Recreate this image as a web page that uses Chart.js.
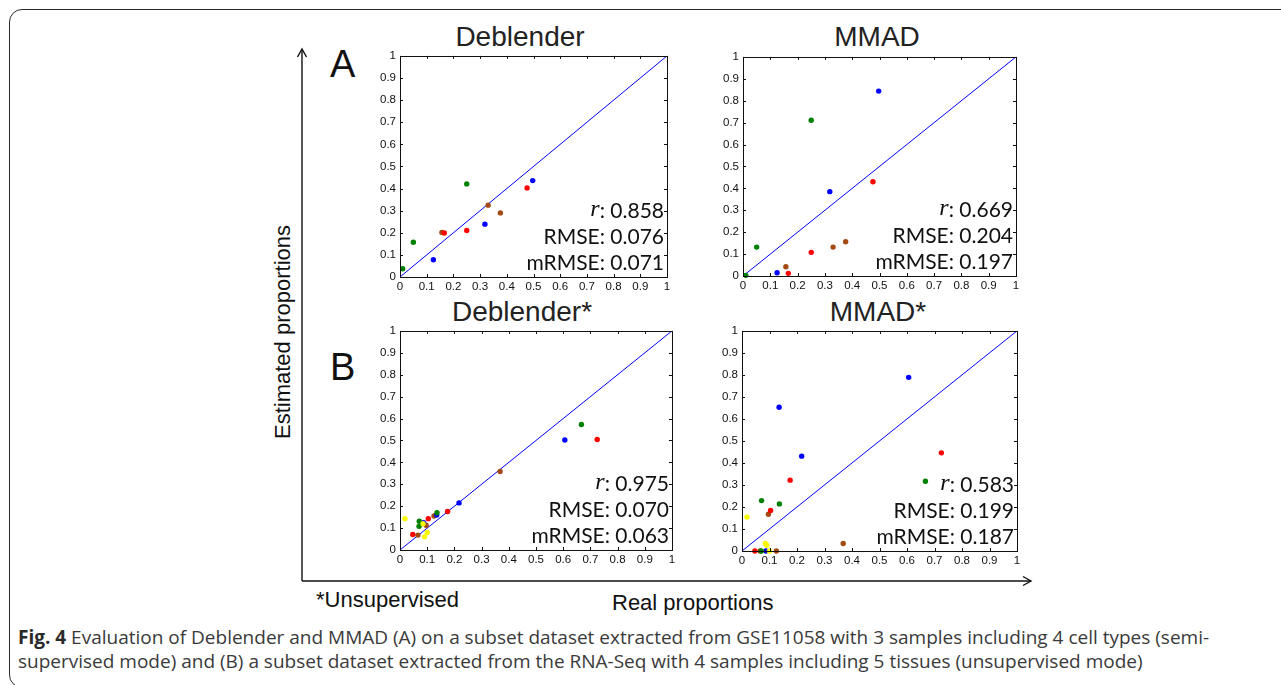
<!DOCTYPE html>
<html>
<head>
<meta charset="utf-8">
<script src="https://cdn.jsdelivr.net/npm/chart.js@4.4.1/dist/chart.umd.min.js"></script>
<style>
  html, body { margin: 0; padding: 0; background: #fff; }
  body { width: 1281px; height: 685px; overflow: hidden; position: relative;
         font-family: "Liberation Sans", Arial, sans-serif; color: #1a1a1a; }
  #frame { position: absolute; left: 9px; top: 9px; width: 1400px; height: 677px;
           border: 1.3px solid #2a2a2a; border-radius: 13px; }
  .abs { position: absolute; white-space: nowrap; line-height: 1; }
  .ptitle { font-size: 28px; color: #222; transform: translateX(-50%); }
  .letter { font-size: 38px; color: #111; }
  .axlab { font-size: 22px; color: #111; }
  #ylab { transform-origin: 0 0; transform: rotate(-90deg); }
  .cap { font-family: "Open Sans", "Noto Sans", sans-serif; font-size: 19px; color: #3a3a3a; left: 18px; }
  .cap b { color: #2a2a2a; }
  canvas { position: absolute; }
</style>
</head>
<body>
<div id="frame"></div>

<svg class="abs" style="left:0;top:0" width="1281" height="685">
  <g stroke="#111" stroke-width="1.4" fill="none">
    <line x1="302" y1="50" x2="302" y2="581"/>
    <line x1="302" y1="581" x2="1031" y2="581"/>
    <polyline points="297.5,57 302,49 306.5,57"/>
    <polyline points="1023,576.5 1031,581 1023,585.5"/>
  </g>
</svg>

<div class="abs letter" style="left:330px;top:45px">A</div>
<div class="abs letter" style="left:330px;top:348px">B</div>

<div class="abs ptitle" style="left:520px;top:23px">Deblender</div>
<div class="abs ptitle" style="left:877px;top:23px">MMAD</div>
<div class="abs ptitle" style="left:522px;top:298px">Deblender*</div>
<div class="abs ptitle" style="left:878px;top:298px">MMAD*</div>

<div class="abs axlab" id="ylab" style="left:272px;top:439px">Estimated proportions</div>
<div class="abs axlab" style="left:612px;top:592px">Real proportions</div>
<div class="abs axlab" style="left:316px;top:589px">*Unsupervised</div>

<div class="abs cap" style="top:628px"><b>Fig. 4</b> Evaluation of Deblender and MMAD (A) on a subset dataset extracted from GSE11058 with 3 samples including 4 cell types (semi-</div>
<div class="abs cap" style="top:652px">supervised mode) and (B) a subset dataset extracted from the RNA-Seq with 4 samples including 5 tissues (unsupervised mode)</div>

<canvas id="c1"></canvas>
<canvas id="c2"></canvas>
<canvas id="c3"></canvas>
<canvas id="c4"></canvas>

<script>
// tick labels shared by every axis
const tickLabels = ['0', '0.1', '0.2', '0.3', '0.4', '0.5', '0.6', '0.7', '0.8', '0.9', '1'];

// A: 3 samples, 4 cell types - real proportions
const aBlueReal  = [0.125, 0.318, 0.497];
const aGreenReal = [0.010, 0.050, 0.250];
const aRedReal   = [0.166, 0.250, 0.476];
const aBrownReal = [0.157, 0.330, 0.376];
// A: Deblender estimates
const aBlueDeb  = [0.078, 0.239, 0.436];
const aGreenDeb = [0.037, 0.157, 0.421];
const aRedDeb   = [0.199, 0.210, 0.403];
const aBrownDeb = [0.201, 0.325, 0.290];
// A: MMAD estimates
const aBlueMmad  = [0.015, 0.385, 0.844];
const aGreenMmad = [0.003, 0.132, 0.711];
const aRedMmad   = [0.012, 0.108, 0.430];
const aBrownMmad = [0.042, 0.132, 0.156];

// B: 4 samples, 5 tissues - real proportions
const bBlueReal   = [0.087, 0.135, 0.217, 0.606];
const bGreenReal  = [0.070, 0.071, 0.136, 0.667];
const bRedReal    = [0.047, 0.104, 0.175, 0.725];
const bBrownReal  = [0.066, 0.096, 0.125, 0.368];
const bYellowReal = [0.018, 0.085, 0.090, 0.100];
// B: Deblender* estimates
const bBlueDeb   = [0.125, 0.160, 0.215, 0.502];
const bGreenDeb  = [0.108, 0.131, 0.170, 0.573];
const bRedDeb    = [0.071, 0.143, 0.176, 0.504];
const bBrownDeb  = [0.068, 0.113, 0.155, 0.358];
const bYellowDeb = [0.143, 0.120, 0.060, 0.080];
// B: MMAD* estimates
const bBlueMmad   = [0.000, 0.653, 0.431, 0.789];
const bGreenMmad  = [0.000, 0.229, 0.214, 0.317];
const bRedMmad    = [0.000, 0.184, 0.322, 0.446];
const bBrownMmad  = [0.000, 0.167, 0.000, 0.034];
const bYellowMmad = [0.154, 0.034, 0.026, 0.000];

// stats printed in the lower right of each panel
const rValues    = ['0.858', '0.669', '0.975', '0.583'];
const rmseValues = ['0.076', '0.204', '0.070', '0.199'];
const mrmseValues = ['0.071', '0.197', '0.063', '0.187'];

const colors = { blue: '#0000ff', green: '#008000', red: '#ff0000', brown: '#a34a12', yellow: '#f8f800' };

function pts(xs, ys) {
  return xs.map((x, i) => ({ x: x, y: ys[i] }));
}

// matlab-like box with inward ticks, plus the stats text
const boxPlugin = {
  id: 'matlabBox',
  afterDraw(chart, args, opts) {
    const ctx = chart.ctx, a = chart.chartArea;
    const xs = chart.scales.x, ys = chart.scales.y;
    ctx.save();
    ctx.strokeStyle = '#111';
    ctx.lineWidth = 1;
    ctx.strokeRect(Math.round(a.left) + 0.5, Math.round(a.top) + 0.5,
                   Math.round(a.right - a.left), Math.round(a.bottom - a.top));
    ctx.beginPath();
    for (let i = 0; i <= 10; i++) {
      const px = Math.round(xs.getPixelForValue(i / 10)) + 0.5;
      ctx.moveTo(px, a.bottom); ctx.lineTo(px, a.bottom - 3);
      ctx.moveTo(px, a.top); ctx.lineTo(px, a.top + 3);
      const py = Math.round(ys.getPixelForValue(i / 10)) + 0.5;
      ctx.moveTo(a.left, py); ctx.lineTo(a.left + 3, py);
      ctx.moveTo(a.right, py); ctx.lineTo(a.right - 3, py);
    }
    ctx.stroke();

    const right = a.right - 3;
    ctx.fillStyle = '#111';
    ctx.textBaseline = 'middle';
    ctx.textAlign = 'right';
    ctx.font = '21px Lato, "Open Sans", sans-serif';
    const rText = ': ' + opts.r;
    ctx.fillText(rText, right, a.bottom - 66);
    const w = ctx.measureText(rText).width;
    ctx.font = 'italic 24px "Liberation Serif", "DejaVu Serif", serif';
    ctx.fillText('r', right - w, a.bottom - 67);
    ctx.font = '21px Lato, "Open Sans", sans-serif';
    ctx.fillText('RMSE: ' + opts.rmse, right, a.bottom - 40);
    ctx.fillText('mRMSE: ' + opts.mrmse, right, a.bottom - 14);
    ctx.restore();
  }
};

function axis(isX) {
  return {
    type: 'linear', min: 0, max: 1,
    grid: { display: false, drawTicks: false },
    border: { display: false },
    ticks: {
      stepSize: 0.1, autoSkip: false, maxRotation: 0,
      padding: isX ? 3 : 4,
      color: '#111',
      font: { size: 11.5, family: '"Liberation Sans", Arial, sans-serif' },
      callback: (v, i) => tickLabels[i]
    },
    afterFit: s => { if (isX) s.height = 18; else s.width = 32; }
  };
}

function makeChart(id, box, series, idx) {
  const cv = document.getElementById(id);
  cv.width = box.w + 40;
  cv.height = box.h + 26;
  cv.style.left = (box.l - 32) + 'px';
  cv.style.top = (box.t - 8) + 'px';

  const datasets = series.map(s => ({
    data: pts(s.x, s.y),
    backgroundColor: colors[s.c],
    borderWidth: 0,
    pointRadius: 2.7,
    clip: false
  }));
  datasets.push({
    type: 'line',
    data: [{ x: 0, y: 0 }, { x: 1, y: 1 }],
    borderColor: '#0000ff',
    borderWidth: 1,
    pointRadius: 0,
    fill: false
  });

  return new Chart(cv, {
    type: 'scatter',
    data: { datasets: datasets },
    options: {
      responsive: false,
      animation: false,
      devicePixelRatio: 1,
      layout: { padding: { top: 8, right: 8, left: 0, bottom: 0 } },
      scales: { x: axis(true), y: axis(false) },
      plugins: {
        legend: { display: false },
        tooltip: { enabled: false },
        matlabBox: { r: rValues[idx], rmse: rmseValues[idx], mrmse: mrmseValues[idx] }
      }
    },
    plugins: [boxPlugin]
  });
}

makeChart('c1', { l: 400, t: 53, w: 267, h: 224 }, [
  { c: 'green', x: aGreenReal, y: aGreenDeb },
  { c: 'blue',  x: aBlueReal,  y: aBlueDeb },
  { c: 'red',   x: aRedReal,   y: aRedDeb },
  { c: 'brown', x: aBrownReal, y: aBrownDeb }
], 0);

makeChart('c2', { l: 743, t: 54, w: 273, h: 222 }, [
  { c: 'green', x: aGreenReal, y: aGreenMmad },
  { c: 'blue',  x: aBlueReal,  y: aBlueMmad },
  { c: 'red',   x: aRedReal,   y: aRedMmad },
  { c: 'brown', x: aBrownReal, y: aBrownMmad }
], 1);

makeChart('c3', { l: 400, t: 328, w: 272, h: 222 }, [
  { c: 'yellow', x: bYellowReal, y: bYellowDeb },
  { c: 'green',  x: bGreenReal,  y: bGreenDeb },
  { c: 'blue',   x: bBlueReal,   y: bBlueDeb },
  { c: 'red',    x: bRedReal,    y: bRedDeb },
  { c: 'brown',  x: bBrownReal,  y: bBrownDeb }
], 2);

makeChart('c4', { l: 742, t: 328, w: 275, h: 223 }, [
  { c: 'yellow', x: bYellowReal, y: bYellowMmad },
  { c: 'green',  x: bGreenReal,  y: bGreenMmad },
  { c: 'blue',   x: bBlueReal,   y: bBlueMmad },
  { c: 'red',    x: bRedReal,    y: bRedMmad },
  { c: 'brown',  x: bBrownReal,  y: bBrownMmad }
], 3);
</script>
</body>
</html>
